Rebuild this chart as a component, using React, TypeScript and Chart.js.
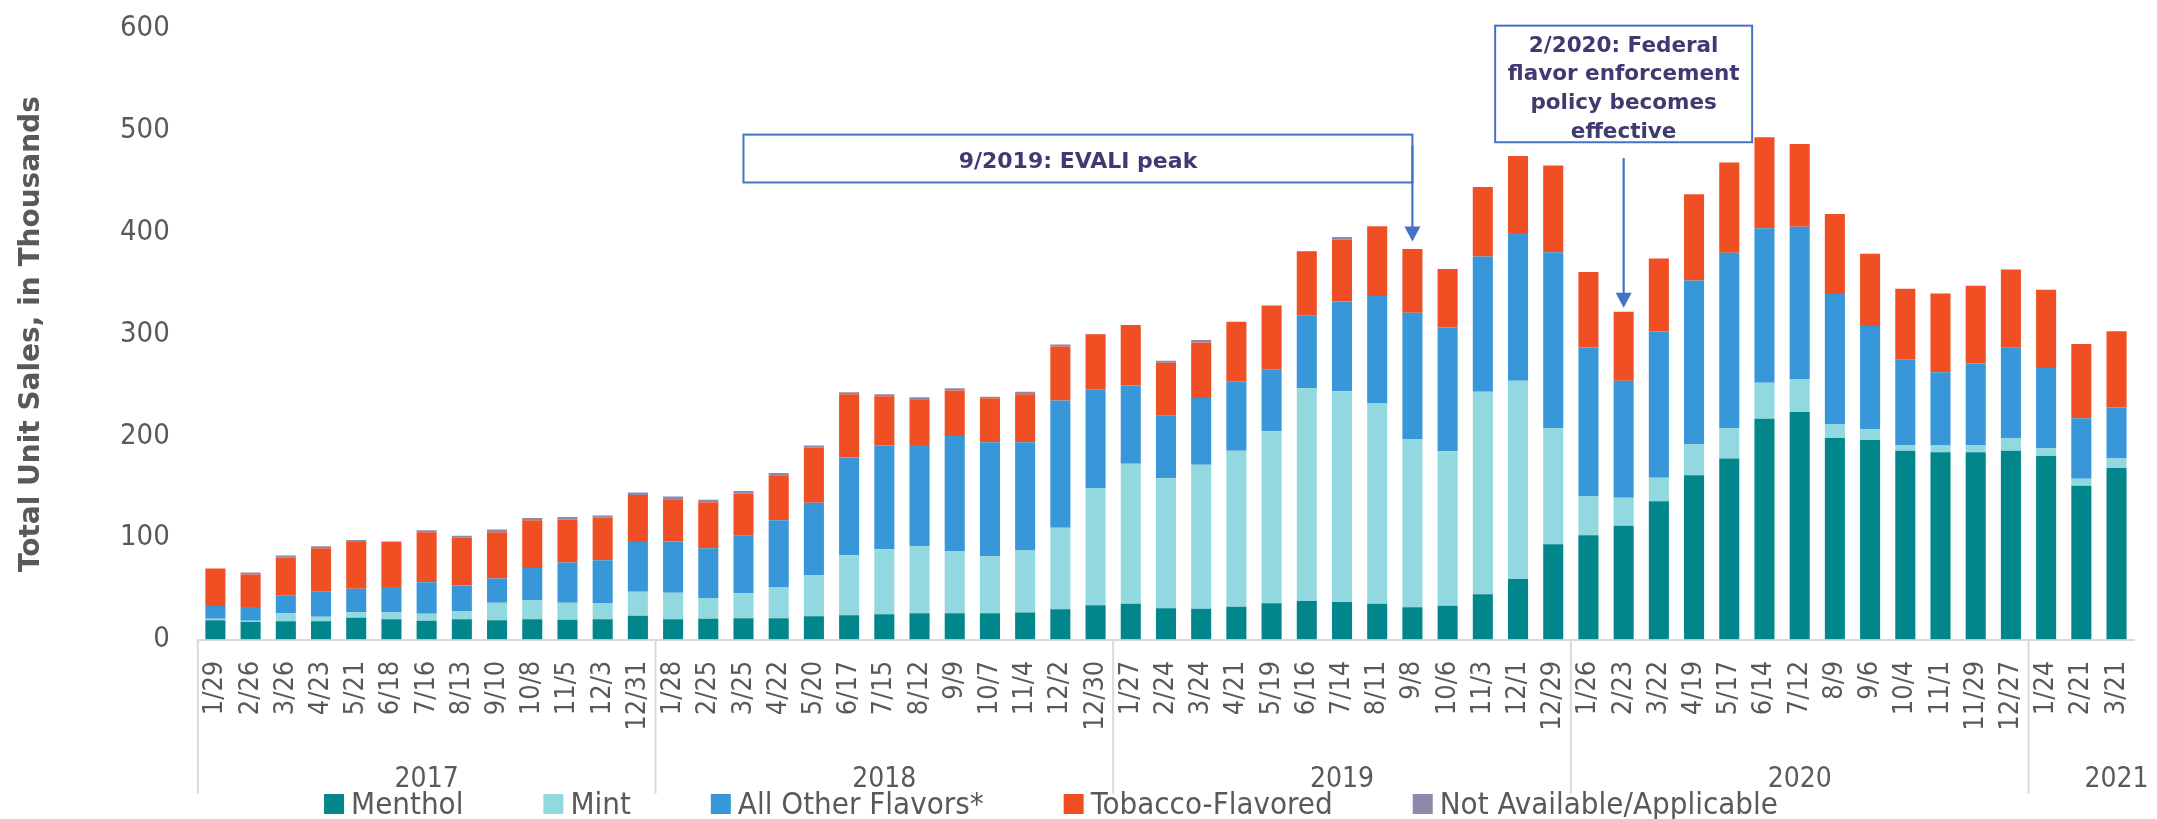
import React, { useEffect, useRef } from "react";
import { Chart, registerables } from "chart.js";

Chart.register(...registerables);

const categories = [
  "1/29", "2/26", "3/26", "4/23", "5/21", "6/18", "7/16", "8/13", "9/10", "10/8", "11/5", "12/3", "12/31",
  "1/28", "2/25", "3/25", "4/22", "5/20", "6/17", "7/15", "8/12", "9/9", "10/7", "11/4", "12/2", "12/30",
  "1/27", "2/24", "3/24", "4/21", "5/19", "6/16", "7/14", "8/11", "9/8", "10/6", "11/3", "12/1", "12/29",
  "1/26", "2/23", "3/22", "4/19", "5/17", "6/14", "7/12", "8/9", "9/6", "10/4", "11/1", "11/29", "12/27",
  "1/24", "2/21", "3/21",
];

const yearLabels = ["2017", "2018", "2019", "2020", "2021"];
const yearCounts = [13, 13, 13, 13, 3];

const menthol = [
  19, 17.4, 18, 18, 21.5, 20, 18.5, 20, 19, 20, 19.5, 20, 23.6,
  20, 20.5, 21, 21, 23, 24, 25, 26, 26, 26, 26.7, 30, 33.8,
  35.4, 30.8, 30.3, 32.3, 35.9, 38, 37, 35.4, 31.8, 33.3, 44.6, 59.5, 93.8,
  102.6, 111.8, 136, 161.5, 178, 217, 223.6, 198, 196, 185.6, 184, 184, 185.6,
  180.5, 151.3, 168.7,
];
const mint = [
  1.5, 1.1, 8, 4.5, 5.5, 6.7, 7.1, 8.2, 17.4, 19, 16.9, 16, 23.6,
  26, 20.5, 24.6, 30.3, 40.6, 59, 63.7, 65.8, 61, 56, 61, 80, 115.2,
  137.4, 127.7, 141.5, 153.3, 168.7, 209, 207, 196.6, 165.2, 151.7, 199, 194.9, 114.2,
  37.9, 27.7, 23, 30.3, 30, 35.3, 32.4, 13.3, 10.7, 5.2, 6.8, 7.3, 12.4,
  7.5, 6.7, 9.3,
];
const otherFlavors = [
  12.5, 13.5, 17.6, 25.2, 23, 25.1, 30.8, 25.1, 23.6, 31.3, 39.5, 42, 48.8,
  50.4, 48.7, 56.4, 66.1, 70.8, 96, 102.1, 99.5, 113, 111.8, 106.1, 125, 97,
  76.9, 61.5, 65.6, 68.2, 61, 71.5, 88, 105.4, 124, 121.7, 132.8, 145.1, 172.5,
  146.5, 114.9, 143.6, 161, 172, 151.7, 149.6, 128.2, 101.3, 84.6, 71.8, 80, 88.7,
  78.7, 59.4, 50,
];
const tobacco = [
  37, 32, 37, 42, 46, 44.2, 49.2, 46.7, 45.6, 47.1, 42.1, 42, 46,
  41.6, 45.2, 41.6, 44.1, 54.3, 62, 48.2, 44.7, 44.6, 43.2, 47.2, 53, 54,
  59.3, 52, 54.4, 58.5, 62.6, 63, 61, 68.6, 62.6, 57.3, 68.2, 75.4, 85.1,
  74, 67.6, 71.8, 84.6, 88.7, 89.3, 81.1, 78.5, 71, 69.2, 77.4, 76.4, 76.9,
  76.9, 72.9, 75,
];
const notAvailable = [
  0, 2, 2, 2, 2, 0.5, 2, 2, 2.5, 2, 2.5, 2, 2.5,
  2.5, 2.5, 2.4, 2.1, 2.1, 2, 2, 2, 2.4, 1.5, 2.6, 2, 0.3,
  0, 2, 2.6, 0, 0, 0, 2.4, 0, 0, 0, 0, 0, 0,
  0, 0, 0, 0, 0, 0, 0, 0, 0, 0, 0, 0, 0,
  0, 0, 0,
];

const seriesNames = ["Menthol", "Mint", "All Other Flavors*", "Tobacco-Flavored", "Not Available/Applicable"];
const seriesColors = ["#00868B", "#92D9DF", "#3797D9", "#F04F23", "#8E89AA"];

const evaliText = ["9/2019: EVALI peak"];
const federalText = ["2/2020: Federal", "flavor enforcement", "policy becomes", "effective"];

const FONT = "'DejaVu Sans Condensed', 'DejaVu Sans', sans-serif";
const BOLD_FONT = "'DejaVu Sans', sans-serif";
const GRAY = "#595959";
const ANNOT_BLUE = "#4472C4";
const ANNOT_TEXT = "#3F3A72";

function drawArrow(ctx: CanvasRenderingContext2D, x: number, y1: number, yTip: number) {
  const headH = 15;
  const headW = 16;
  ctx.strokeStyle = ANNOT_BLUE;
  ctx.lineWidth = 2.2;
  ctx.beginPath();
  ctx.moveTo(x, y1);
  ctx.lineTo(x, yTip - headH + 1);
  ctx.stroke();
  ctx.fillStyle = ANNOT_BLUE;
  ctx.beginPath();
  ctx.moveTo(x - headW / 2, yTip - headH);
  ctx.lineTo(x + headW / 2, yTip - headH);
  ctx.lineTo(x, yTip);
  ctx.closePath();
  ctx.fill();
}

const overlayPlugin = {
  id: "overlay",
  afterDraw(chart: any) {
    const ctx: CanvasRenderingContext2D = chart.ctx;
    const xs = chart.scales.x;
    const ys = chart.scales.y;
    const catW = xs.getPixelForValue(1) - xs.getPixelForValue(0);
    const edge = (i: number) => xs.getPixelForValue(0) - catW / 2 + i * catW;
    const bottom = chart.chartArea.bottom;
    ctx.save();

    // year group separators and labels
    let start = 0;
    yearCounts.forEach((n, gi) => {
      const ex = edge(start);
      ctx.strokeStyle = "#D9D9D9";
      ctx.lineWidth = 2;
      ctx.beginPath();
      ctx.moveTo(ex, bottom);
      ctx.lineTo(ex, bottom + 154);
      ctx.stroke();
      let mid = (edge(start) + edge(start + n)) / 2;
      if (gi === yearCounts.length - 1) mid = xs.getPixelForValue(start + n - 1);
      ctx.fillStyle = GRAY;
      ctx.font = `28px ${FONT}`;
      ctx.textAlign = "center";
      ctx.textBaseline = "alphabetic";
      ctx.fillText(yearLabels[gi], mid, bottom + 147);
      start += n;
    });

    // annotation 1: EVALI peak
    const b1l = xs.getPixelForValue(15);
    const b1r = xs.getPixelForValue(34);
    const b1t = ys.getPixelForValue(496);
    const b1b = ys.getPixelForValue(449);
    ctx.fillStyle = "#FFFFFF";
    ctx.fillRect(b1l, b1t, b1r - b1l, b1b - b1t);
    ctx.strokeStyle = ANNOT_BLUE;
    ctx.lineWidth = 2;
    ctx.strokeRect(b1l, b1t, b1r - b1l, b1b - b1t);
    ctx.fillStyle = ANNOT_TEXT;
    ctx.font = `bold 22px ${BOLD_FONT}`;
    ctx.textAlign = "center";
    ctx.textBaseline = "alphabetic";
    ctx.fillText(evaliText[0], (b1l + b1r) / 2, b1t + 33.5);
    drawArrow(ctx, b1r, ys.getPixelForValue(485), ys.getPixelForValue(391));

    // annotation 2: Federal flavor enforcement
    const c2 = xs.getPixelForValue(40);
    const halfW = 3.65 * catW;
    const b2t = ys.getPixelForValue(603);
    const b2b = ys.getPixelForValue(488.5);
    ctx.fillStyle = "#FFFFFF";
    ctx.fillRect(c2 - halfW, b2t, halfW * 2, b2b - b2t);
    ctx.strokeStyle = ANNOT_BLUE;
    ctx.lineWidth = 2;
    ctx.strokeRect(c2 - halfW, b2t, halfW * 2, b2b - b2t);
    ctx.fillStyle = ANNOT_TEXT;
    ctx.font = `bold 21.5px ${BOLD_FONT}`;
    federalText.forEach((t, i) => {
      ctx.fillText(t, c2, b2t + 26 + i * 28.7);
    });
    drawArrow(ctx, c2, ys.getPixelForValue(473), ys.getPixelForValue(326));

    // legend
    ctx.font = `31px ${FONT}`;
    const box = 20;
    const gapText = 7;
    const gapItem = 80;
    const widths = chart.data.datasets.map((d: any) => box + gapText + ctx.measureText(d.label).width);
    const total = widths.reduce((a: number, b: number) => a + b, 0) + gapItem * (widths.length - 1);
    let lx = 1043 - total / 2;
    const ly = 786;
    chart.data.datasets.forEach((d: any, i: number) => {
      ctx.fillStyle = d.backgroundColor;
      ctx.fillRect(lx, ly, box, box);
      ctx.fillStyle = GRAY;
      ctx.textAlign = "left";
      ctx.textBaseline = "alphabetic";
      ctx.fillText(d.label, lx + box + gapText, 806);
      lx += widths[i] + gapItem;
    });

    ctx.restore();
  },
};

export default function App() {
  const ref = useRef<HTMLCanvasElement | null>(null);

  useEffect(() => {
    document.documentElement.style.overflow = "hidden";
    document.body.style.overflow = "hidden";
    if (!ref.current) return;
    const series = [menthol, mint, otherFlavors, tobacco, notAvailable];
    const chart = new Chart(ref.current, {
      type: "bar",
      data: {
        labels: categories,
        datasets: series.map((data, i) => ({
          label: seriesNames[i],
          data,
          backgroundColor: seriesColors[i],
          borderWidth: 0,
          categoryPercentage: 1,
          barPercentage: 0.57,
        })),
      },
      options: {
        responsive: false,
        animation: false,
        layout: { padding: { top: 20.7, left: 0, right: 7.3, bottom: 0 } },
        plugins: {
          legend: { display: false },
          tooltip: { enabled: false },
        },
        scales: {
          x: {
            stacked: true,
            grid: {
              display: true,
              drawOnChartArea: false,
              drawTicks: true,
              tickLength: 21,
              color: "rgba(0,0,0,0)",
            },
            border: { color: "#D9D9D9", width: 2 },
            ticks: {
              autoSkip: false,
              maxRotation: 90,
              minRotation: 90,
              padding: 0,
              color: GRAY,
              font: { family: FONT, size: 27 },
            },
            afterFit: (s: any) => {
              s.height = 811 - 631.7;
            },
          },
          y: {
            stacked: true,
            min: 0,
            max: 600,
            grid: {
              display: true,
              drawOnChartArea: false,
              drawTicks: true,
              tickLength: 28,
              color: "rgba(0,0,0,0)",
            },
            border: { display: false },
            ticks: {
              stepSize: 100,
              padding: 0,
              color: GRAY,
              font: { family: FONT, size: 29 },
            },
            title: {
              display: true,
              text: "Total Unit Sales, in Thousands",
              color: GRAY,
              font: { family: BOLD_FONT, size: 28, weight: "bold" },
              padding: { top: 7, bottom: 0 },
            },
            afterFit: (s: any) => {
              s.width = 189.8;
            },
          },
        },
      },
      plugins: [overlayPlugin],
    });
    return () => chart.destroy();
  }, []);

  return (
    <div style={{ width: 2141, height: 811 }}>
      <canvas ref={ref} width={2141} height={811} style={{ display: "block" }} />
    </div>
  );
}
